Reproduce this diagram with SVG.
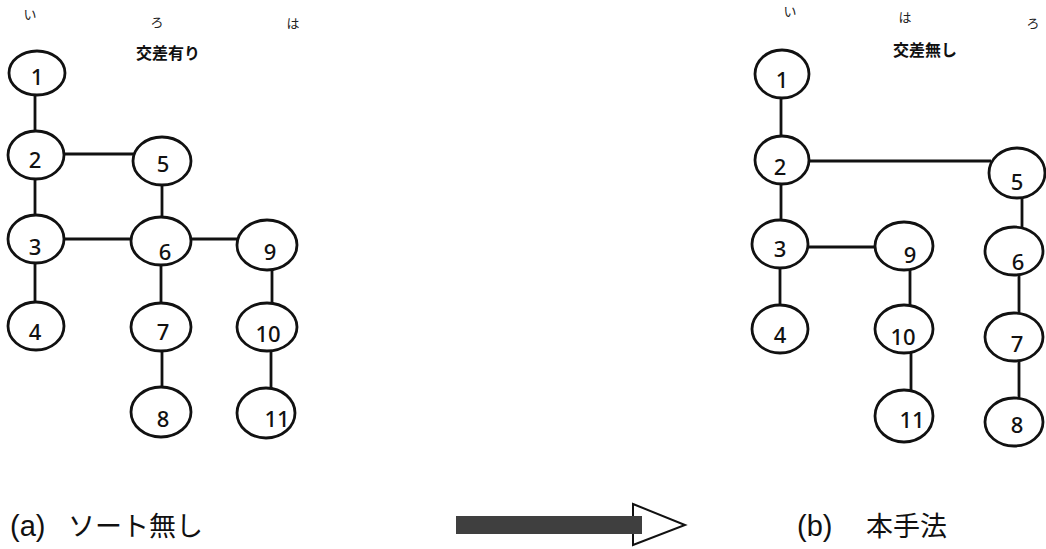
<svg xmlns="http://www.w3.org/2000/svg" width="1046" height="549" viewBox="0 0 1046 549">
<style>
.n{fill:#fff;stroke:#111;stroke-width:2.8}
.e{stroke:#111;stroke-width:2.8;fill:none}
.d{font-family:"Noto Sans","DejaVu Sans",sans-serif;font-size:22px;font-weight:500;fill:#111;text-anchor:middle}
.k{font-family:"Noto Sans CJK JP",sans-serif;font-size:13px;fill:#222;text-anchor:middle}
.t{font-family:"Noto Sans CJK JP",sans-serif;font-size:16px;font-weight:bold;fill:#111;text-anchor:middle}
.c{font-family:"Liberation Sans","Noto Sans CJK JP",sans-serif;font-size:27px;fill:#111}
.p{font-family:"Liberation Sans",sans-serif;font-size:29px;fill:#111}
</style>
<rect width="1046" height="549" fill="#fff"/>
<g id="connectors">
<line class="e" x1="35" y1="95" x2="35" y2="131"/>
<line class="e" x1="35" y1="179" x2="35" y2="216"/>
<line class="e" x1="64" y1="154" x2="134" y2="154"/>
<line class="e" x1="162" y1="184" x2="162" y2="218"/>
<line class="e" x1="64" y1="239" x2="131" y2="239"/>
<line class="e" x1="191" y1="239" x2="238" y2="239"/>
<line class="e" x1="35" y1="262" x2="35" y2="303"/>
<line class="e" x1="161" y1="264" x2="161" y2="304"/>
<line class="e" x1="272" y1="268" x2="272" y2="304"/>
<line class="e" x1="162" y1="350" x2="162" y2="389"/>
<line class="e" x1="271" y1="350" x2="271" y2="390"/>
<line class="e" x1="781" y1="97" x2="781" y2="136"/>
<line class="e" x1="781" y1="183" x2="781" y2="221"/>
<line class="e" x1="808" y1="161" x2="991" y2="161"/>
<line class="e" x1="1022" y1="196" x2="1022" y2="228"/>
<line class="e" x1="807" y1="247" x2="877" y2="247"/>
<line class="e" x1="780" y1="267" x2="780" y2="306"/>
<line class="e" x1="910" y1="269" x2="910" y2="306"/>
<line class="e" x1="911" y1="352" x2="911" y2="393"/>
<line class="e" x1="1019" y1="274" x2="1019" y2="314"/>
<line class="e" x1="1019" y1="360" x2="1019" y2="399"/>
</g>
<g id="label-left">
<text class="k" x="30" y="19">い</text>
<text class="k" x="157" y="27">ろ</text>
<text class="k" x="293" y="28">は</text>
<text class="t" x="168" y="59">交差有り</text>
</g>
<g id="label-right">
<text class="k" x="790" y="16">い</text>
<text class="k" x="905" y="22">は</text>
<text class="k" x="1033" y="28">ろ</text>
<text class="t" x="925" y="56">交差無し</text>
</g>
<g id="a1"><ellipse class="n" cx="37" cy="73" rx="28" ry="22"/><text class="d" x="37" y="85">1</text></g>
<g id="a2"><ellipse class="n" cx="36" cy="155" rx="28" ry="24"/><text class="d" x="35" y="168">2</text></g>
<g id="a5"><ellipse class="n" cx="162" cy="161" rx="29" ry="24"/><text class="d" x="163" y="172">5</text></g>
<g id="a3"><ellipse class="n" cx="36" cy="239" rx="28" ry="24"/><text class="d" x="35" y="255">3</text></g>
<g id="a6"><ellipse class="n" cx="161" cy="241" rx="30" ry="24"/><text class="d" x="165" y="260">6</text></g>
<g id="a9"><ellipse class="n" cx="267" cy="245" rx="30" ry="25"/><text class="d" x="270" y="260">9</text></g>
<g id="a4"><ellipse class="n" cx="36" cy="326" rx="28" ry="24"/><text class="d" x="35" y="340">4</text></g>
<g id="a7"><ellipse class="n" cx="161" cy="327" rx="30" ry="24"/><text class="d" x="163" y="340">7</text></g>
<g id="a10"><ellipse class="n" cx="267" cy="327" rx="30" ry="24"/><text class="d" x="268" y="342">10</text></g>
<g id="a8"><ellipse class="n" cx="161" cy="412" rx="30" ry="25"/><text class="d" x="163" y="427">8</text></g>
<g id="a11"><ellipse class="n" cx="266" cy="413" rx="29" ry="25"/><text class="d" x="277" y="427">11</text></g>
<g id="b1"><ellipse class="n" cx="782" cy="74" rx="27" ry="24"/><text class="d" x="782" y="88">1</text></g>
<g id="b2"><ellipse class="n" cx="782" cy="160" rx="27" ry="24"/><text class="d" x="780" y="175">2</text></g>
<g id="b5"><ellipse class="n" cx="1017" cy="173" rx="28" ry="25"/><text class="d" x="1017" y="190">5</text></g>
<g id="b3"><ellipse class="n" cx="780" cy="244" rx="28" ry="24"/><text class="d" x="780" y="257">3</text></g>
<g id="b9"><ellipse class="n" cx="904" cy="246" rx="29" ry="24"/><text class="d" x="910" y="263">9</text></g>
<g id="b6"><ellipse class="n" cx="1014" cy="251" rx="29" ry="24"/><text class="d" x="1018" y="270">6</text></g>
<g id="b4"><ellipse class="n" cx="780" cy="329" rx="28" ry="24"/><text class="d" x="780" y="343">4</text></g>
<g id="b10"><ellipse class="n" cx="904" cy="329" rx="29" ry="24"/><text class="d" x="903" y="345">10</text></g>
<g id="b7"><ellipse class="n" cx="1014" cy="337" rx="29" ry="24"/><text class="d" x="1017" y="352">7</text></g>
<g id="b11"><ellipse class="n" cx="904" cy="416" rx="29" ry="26"/><text class="d" x="912" y="428">11</text></g>
<g id="b8"><ellipse class="n" cx="1014" cy="422" rx="29" ry="24"/><text class="d" x="1017" y="433">8</text></g>
<g id="captions">
<text class="p" x="10" y="536">(a)</text>
<text class="c" x="68" y="536">ソート無し</text>
<text class="p" x="797" y="536">(b)</text>
<text class="c" x="866" y="536">本手法</text>
</g>
<g id="arrow">
<polygon points="633,504 685,525 633,545" fill="#fff" stroke="#111" stroke-width="2"/>
<rect x="456" y="516" width="186" height="18" fill="#3f3f3f"/>
</g>
</svg>
